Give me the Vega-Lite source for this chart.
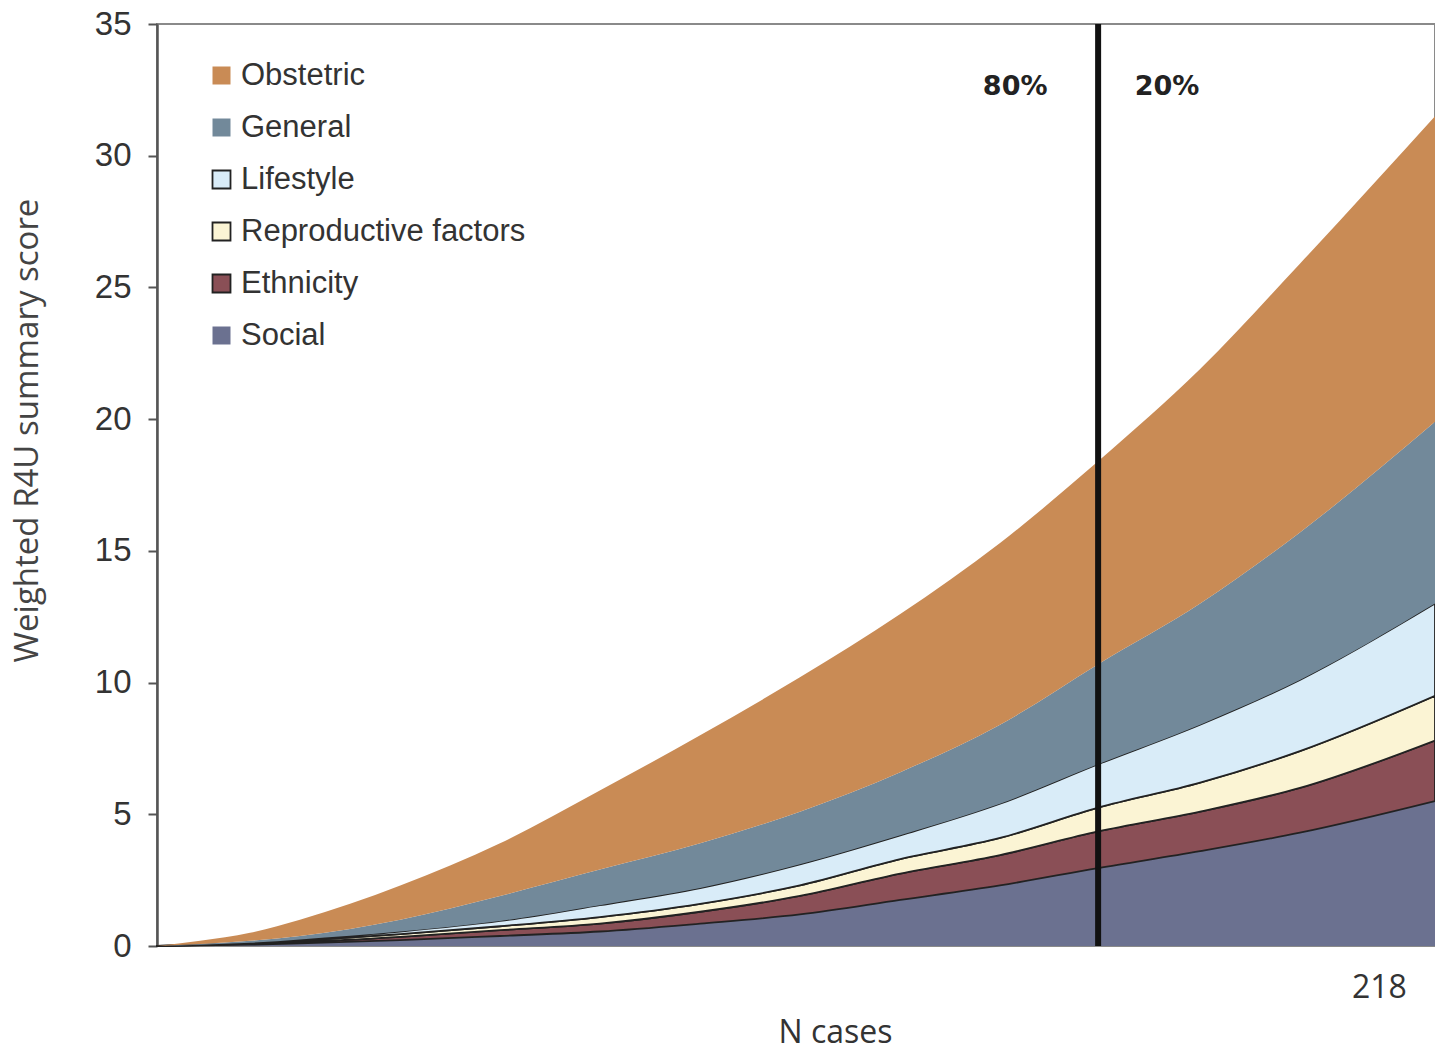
{
  "$schema": "https://vega.github.io/schema/vega-lite/v6.json",
  "autosize": {"type": "none"},
  "padding": {"left": 157, "top": 24, "right": 0, "bottom": 105},
  "width": 1278,
  "height": 922,
  "background": "white",
  "config": {
    "view": {"stroke": "#8a8a8a", "strokeWidth": 2},
    "font": "Liberation Sans"
  },
  "datasets": {
    "scores": [
      {"n": 0, "series": "Social", "ord": 1, "v": 0},
      {"n": 0, "series": "Ethnicity", "ord": 2, "v": 0},
      {"n": 0, "series": "Reproductive factors", "ord": 3, "v": 0},
      {"n": 0, "series": "Lifestyle", "ord": 4, "v": 0},
      {"n": 0, "series": "General", "ord": 5, "v": 0},
      {"n": 0, "series": "Obstetric", "ord": 6, "v": 0},
      {"n": 7.7, "series": "Social", "ord": 1, "v": 0.02},
      {"n": 7.7, "series": "Ethnicity", "ord": 2, "v": 0.01},
      {"n": 7.7, "series": "Reproductive factors", "ord": 3, "v": 0.01},
      {"n": 7.7, "series": "Lifestyle", "ord": 4, "v": 0.01},
      {"n": 7.7, "series": "General", "ord": 5, "v": 0.03},
      {"n": 7.7, "series": "Obstetric", "ord": 6, "v": 0.12},
      {"n": 16.6, "series": "Social", "ord": 1, "v": 0.05},
      {"n": 16.6, "series": "Ethnicity", "ord": 2, "v": 0.03},
      {"n": 16.6, "series": "Reproductive factors", "ord": 3, "v": 0.02},
      {"n": 16.6, "series": "Lifestyle", "ord": 4, "v": 0.02},
      {"n": 16.6, "series": "General", "ord": 5, "v": 0.08},
      {"n": 16.6, "series": "Obstetric", "ord": 6, "v": 0.3},
      {"n": 25.5, "series": "Social", "ord": 1, "v": 0.1},
      {"n": 25.5, "series": "Ethnicity", "ord": 2, "v": 0.05},
      {"n": 25.5, "series": "Reproductive factors", "ord": 3, "v": 0.05},
      {"n": 25.5, "series": "Lifestyle", "ord": 4, "v": 0.05},
      {"n": 25.5, "series": "General", "ord": 5, "v": 0.13},
      {"n": 25.5, "series": "Obstetric", "ord": 6, "v": 0.62},
      {"n": 43.4, "series": "Social", "ord": 1, "v": 0.22},
      {"n": 43.4, "series": "Ethnicity", "ord": 2, "v": 0.13},
      {"n": 43.4, "series": "Reproductive factors", "ord": 3, "v": 0.1},
      {"n": 43.4, "series": "Lifestyle", "ord": 4, "v": 0.1},
      {"n": 43.4, "series": "General", "ord": 5, "v": 0.45},
      {"n": 43.4, "series": "Obstetric", "ord": 6, "v": 1.3},
      {"n": 61.2, "series": "Social", "ord": 1, "v": 0.38},
      {"n": 61.2, "series": "Ethnicity", "ord": 2, "v": 0.22},
      {"n": 61.2, "series": "Reproductive factors", "ord": 3, "v": 0.15},
      {"n": 61.2, "series": "Lifestyle", "ord": 4, "v": 0.2},
      {"n": 61.2, "series": "General", "ord": 5, "v": 0.95},
      {"n": 61.2, "series": "Obstetric", "ord": 6, "v": 2.0},
      {"n": 79.0, "series": "Social", "ord": 1, "v": 0.55},
      {"n": 79.0, "series": "Ethnicity", "ord": 2, "v": 0.3},
      {"n": 79.0, "series": "Reproductive factors", "ord": 3, "v": 0.25},
      {"n": 79.0, "series": "Lifestyle", "ord": 4, "v": 0.45},
      {"n": 79.0, "series": "General", "ord": 5, "v": 1.35},
      {"n": 79.0, "series": "Obstetric", "ord": 6, "v": 3.0},
      {"n": 96.9, "series": "Social", "ord": 1, "v": 0.85},
      {"n": 96.9, "series": "Ethnicity", "ord": 2, "v": 0.45},
      {"n": 96.9, "series": "Reproductive factors", "ord": 3, "v": 0.3},
      {"n": 96.9, "series": "Lifestyle", "ord": 4, "v": 0.6},
      {"n": 96.9, "series": "General", "ord": 5, "v": 1.7},
      {"n": 96.9, "series": "Obstetric", "ord": 6, "v": 4.1},
      {"n": 114.7, "series": "Social", "ord": 1, "v": 1.2},
      {"n": 114.7, "series": "Ethnicity", "ord": 2, "v": 0.7},
      {"n": 114.7, "series": "Reproductive factors", "ord": 3, "v": 0.4},
      {"n": 114.7, "series": "Lifestyle", "ord": 4, "v": 0.8},
      {"n": 114.7, "series": "General", "ord": 5, "v": 2.0},
      {"n": 114.7, "series": "Obstetric", "ord": 6, "v": 5.1},
      {"n": 132.6, "series": "Social", "ord": 1, "v": 1.75},
      {"n": 132.6, "series": "Ethnicity", "ord": 2, "v": 1.0},
      {"n": 132.6, "series": "Reproductive factors", "ord": 3, "v": 0.55},
      {"n": 132.6, "series": "Lifestyle", "ord": 4, "v": 0.9},
      {"n": 132.6, "series": "General", "ord": 5, "v": 2.4},
      {"n": 132.6, "series": "Obstetric", "ord": 6, "v": 6.0},
      {"n": 150.4, "series": "Social", "ord": 1, "v": 2.3},
      {"n": 150.4, "series": "Ethnicity", "ord": 2, "v": 1.15},
      {"n": 150.4, "series": "Reproductive factors", "ord": 3, "v": 0.65},
      {"n": 150.4, "series": "Lifestyle", "ord": 4, "v": 1.3},
      {"n": 150.4, "series": "General", "ord": 5, "v": 3.0},
      {"n": 150.4, "series": "Obstetric", "ord": 6, "v": 6.9},
      {"n": 167.9, "series": "Social", "ord": 1, "v": 2.96},
      {"n": 167.9, "series": "Ethnicity", "ord": 2, "v": 1.39},
      {"n": 167.9, "series": "Reproductive factors", "ord": 3, "v": 0.9},
      {"n": 167.9, "series": "Lifestyle", "ord": 4, "v": 1.65},
      {"n": 167.9, "series": "General", "ord": 5, "v": 3.8},
      {"n": 167.9, "series": "Obstetric", "ord": 6, "v": 7.7},
      {"n": 186.1, "series": "Social", "ord": 1, "v": 3.6},
      {"n": 186.1, "series": "Ethnicity", "ord": 2, "v": 1.5},
      {"n": 186.1, "series": "Reproductive factors", "ord": 3, "v": 1.1},
      {"n": 186.1, "series": "Lifestyle", "ord": 4, "v": 2.2},
      {"n": 186.1, "series": "General", "ord": 5, "v": 4.6},
      {"n": 186.1, "series": "Obstetric", "ord": 6, "v": 8.9},
      {"n": 203.9, "series": "Social", "ord": 1, "v": 4.3},
      {"n": 203.9, "series": "Ethnicity", "ord": 2, "v": 1.7},
      {"n": 203.9, "series": "Reproductive factors", "ord": 3, "v": 1.4},
      {"n": 203.9, "series": "Lifestyle", "ord": 4, "v": 2.7},
      {"n": 203.9, "series": "General", "ord": 5, "v": 5.6},
      {"n": 203.9, "series": "Obstetric", "ord": 6, "v": 10.2},
      {"n": 228, "series": "Social", "ord": 1, "v": 5.5},
      {"n": 228, "series": "Ethnicity", "ord": 2, "v": 2.3},
      {"n": 228, "series": "Reproductive factors", "ord": 3, "v": 1.7},
      {"n": 228, "series": "Lifestyle", "ord": 4, "v": 3.5},
      {"n": 228, "series": "General", "ord": 5, "v": 6.9},
      {"n": 228, "series": "Obstetric", "ord": 6, "v": 11.6}
    ],
    "split": [{"n": 167.9}],
    "labels": [
      {"n": 153.1, "y": 32.6, "text": "80%"},
      {"n": 180.2, "y": 32.6, "text": "20%"}
    ]
  },
  "encoding": {
    "x": {
      "field": "n",
      "type": "quantitative",
      "scale": {"domain": [0, 228], "nice": false, "zero": true},
      "axis": {
        "title": "N cases",
        "values": [218],
        "ticks": false,
        "domain": false,
        "grid": false,
        "labelFont": "Open Sans",
        "labelFontSize": 32,
        "labelColor": "#333333",
        "labelPadding": 26,
        "titleFont": "Open Sans",
        "titleFontSize": 32,
        "titleFontWeight": "normal",
        "titleColor": "#333333",
        "titleX": 678,
        "titleY": 86,
        "titleBaseline": "middle"
      }
    }
  },
  "layer": [
    {
      "data": {"name": "scores"},
      "mark": {"type": "area", "interpolate": "monotone", "strokeWidth": 1.8, "strokeJoin": "round"},
      "encoding": {
        "y": {
          "field": "v",
          "type": "quantitative",
          "stack": "zero",
          "scale": {"domain": [0, 35], "nice": false},
          "axis": {
            "title": "Weighted R4U summary score",
            "values": [0, 5, 10, 15, 20, 25, 30, 35],
            "grid": false,
            "domainColor": "#555555",
            "domainWidth": 2.5,
            "tickColor": "#555555",
            "tickWidth": 2,
            "tickSize": 9,
            "labelFont": "Liberation Sans",
            "labelFontSize": 33,
            "labelColor": "#333333",
            "labelPadding": 17,
            "titleFont": "Open Sans",
            "titleFontSize": 33,
            "titleFontWeight": "normal",
            "titleColor": "#444444",
            "titleX": -146,
            "titleY": 406,
            "titleBaseline": "top"
          }
        },
        "order": {"field": "ord", "type": "quantitative", "sort": "ascending"},
        "fill": {
          "field": "series",
          "type": "nominal",
          "scale": {
            "domain": ["Obstetric", "General", "Lifestyle", "Reproductive factors", "Ethnicity", "Social"],
            "range": ["#c98b55", "#72899a", "#d9ecf8", "#fbf4d4", "#8a4f56", "#6b7190"]
          },
          "legend": {
            "title": null,
            "orient": "none",
            "legendX": 49,
            "legendY": 36,
            "padding": 0,
            "symbolType": "square",
            "symbolSize": 324,
            "symbolStrokeWidth": 1.8,
            "labelFont": "Liberation Sans",
            "labelFontSize": 31,
            "labelColor": "#333333",
            "labelOffset": 4,
            "rowPadding": 20,
            "labelLimit": 500
          }
        },
        "stroke": {
          "field": "series",
          "type": "nominal",
          "scale": {
            "domain": ["Obstetric", "General", "Lifestyle", "Reproductive factors", "Ethnicity", "Social"],
            "range": ["transparent", "transparent", "#222222", "#222222", "#222222", "transparent"]
          },
          "legend": {
            "title": null,
            "orient": "none",
            "legendX": 49,
            "legendY": 36,
            "padding": 0,
            "symbolType": "square",
            "symbolSize": 324,
            "symbolStrokeWidth": 1.8,
            "labelFont": "Liberation Sans",
            "labelFontSize": 31,
            "labelColor": "#333333",
            "labelOffset": 4,
            "rowPadding": 20,
            "labelLimit": 500
          }
        }
      }
    },
    {
      "data": {"name": "split"},
      "mark": {"type": "rule", "color": "#111111", "strokeWidth": 6},
      "encoding": {}
    },
    {
      "data": {"name": "labels"},
      "mark": {"type": "text", "font": "DejaVu Sans", "fontWeight": "bold", "fontSize": 27, "color": "#222222", "align": "center", "baseline": "middle"},
      "encoding": {
        "y": {"field": "y", "type": "quantitative"},
        "text": {"field": "text", "type": "nominal"}
      }
    }
  ]
}
